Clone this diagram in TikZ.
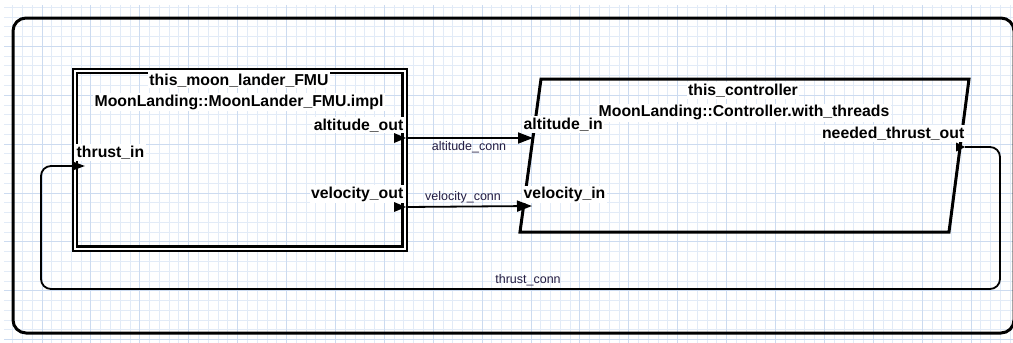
\documentclass[tikz,border=0pt]{standalone}
\usepackage{fontspec}
\setmainfont{Liberation Sans}
\usetikzlibrary{arrows.meta}
\definecolor{gridminor}{RGB}{226,235,247}
\definecolor{gridmajor}{RGB}{204,219,240}
\definecolor{connc}{RGB}{35,28,65}
\begin{document}
\begin{tikzpicture}[x=1pt,y=-1pt,
  lbl/.style={font=\fontsize{15.8}{18}\selectfont\bfseries, fill=white, inner sep=1.5pt, anchor=base},
  conlbl/.style={font=\fontsize{12.5}{14}\selectfont, text=connc, inner sep=0pt, anchor=base},
  conn/.style={line width=1.8pt, -{Triangle[length=15pt,width=11pt]}},
  portmark/.style={fill=black},
  ]
\useasboundingbox (0,0) rectangle (1013,343);
% grid
\foreach \k in {1,...,103} \draw[gridminor, line width=0.9pt] ({2.9+9.78*\k},5) -- ({2.9+9.78*\k},343);
\foreach \k in {0,...,34} \draw[gridminor, line width=0.9pt] (4,{7.2+9.78*\k}) -- (1013,{7.2+9.78*\k});
\foreach \k in {0,...,20} \draw[gridmajor, line width=0.9pt] ({42+48.9*\k},5) -- ({42+48.9*\k},343);
\foreach \k in {0,...,6} \draw[gridmajor, line width=0.9pt] (4,{46.3+48.9*\k}) -- (1013,{46.3+48.9*\k});
% outer system
\draw[line width=3pt, rounded corners=13pt] (13,18) rectangle (1014,333);
% FMU block
\draw[line width=2.2pt, double=white, double distance=2pt] (75,71) rectangle (404.5,248.5);
\node[lbl] (fmuname) at (239,85) {this\_moon\_lander\_FMU};
\node[lbl] (fmutype) at (239,106) {MoonLanding::MoonLander\_FMU.impl};
\node[lbl, anchor=base east] (altoutl) at (405,130) {altitude\_out};
\node[lbl, anchor=base east] (veloutl) at (405,198.3) {velocity\_out};
\node[lbl, anchor=base west] (thrinl) at (75,157.3) {thrust\_in};
% controller block
\draw[line width=3pt, line join=miter] (541,79) -- (969,79) -- (949,232) -- (520,232) -- cycle;
\node[lbl] (ctrlname) at (743,95.3) {this\_controller};
\node[lbl] (ctrltype) at (744,116.7) {MoonLanding::Controller.with\_threads};
\node[lbl, anchor=base east] (ntoutl) at (966,138.3) {needed\_thrust\_out};
\node[lbl, anchor=base west] (altinl) at (522,129.3) {altitude\_in};
\node[lbl, anchor=base west] (velinl) at (522,198.7) {velocity\_in};
% ports
\coordinate (altout) at (406,138);
\coordinate (velout) at (406,207);
\coordinate (thrin) at (85,166);
\coordinate (altin) at (533,138);
\coordinate (velin) at (532,206);
\coordinate (ntout) at (965,147);
\fill[portmark] (394,133) -- (406,138) -- (394,143) -- cycle;
\fill[portmark] (394,202) -- (406,207) -- (394,212) -- cycle;
\fill[portmark] (956,142.5) -- (965,147) -- (956,151.5) -- cycle;
% connections
\draw[conn] (altout) -- (altin);
\node[conlbl] (altconn) at (469,150) {altitude\_conn};
\draw[conn] (velout) -- (velin);
\node[conlbl] (velconn) at (463,200) {velocity\_conn};
\draw[line width=1.8pt, rounded corners=10pt, -{Triangle[length=13pt,width=9pt]}]
  (ntout) -- (1000,147) -- (1000,289) -- (41,289) -- (41,166) -- (thrin);
\node[conlbl] (thrconn) at (528,283.3) {thrust\_conn};
\end{tikzpicture}
\end{document}
